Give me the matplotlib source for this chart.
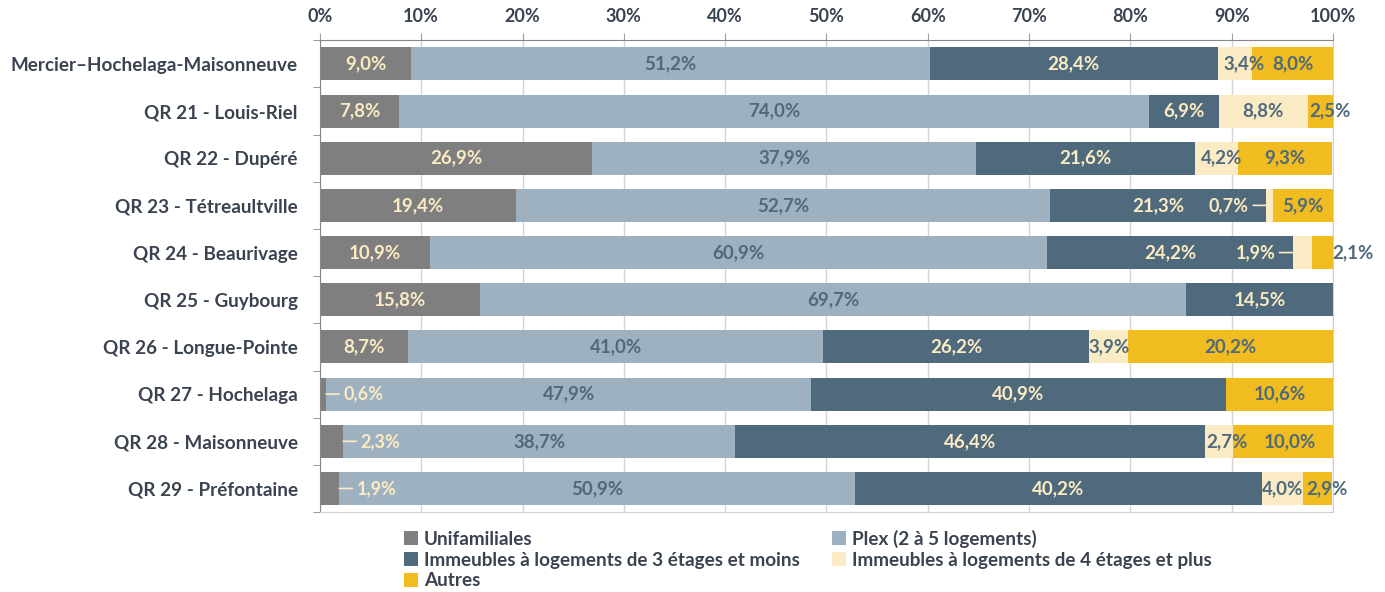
import numpy as np
import matplotlib
matplotlib.use("Agg")
import matplotlib.pyplot as plt

plt.rcParams["font.family"] = ["Lato", "DejaVu Sans"]

districts = ["Mercier\u2013Hochelaga-Maisonneuve", "QR 21 - Louis-Riel", "QR 22 - Dupéré",
             "QR 23 - Tétreaultville", "QR 24 - Beaurivage", "QR 25 - Guybourg",
             "QR 26 - Longue-Pointe", "QR 27 - Hochelaga", "QR 28 - Maisonneuve",
             "QR 29 - Préfontaine"]
series = ["Unifamiliales", "Plex (2 à 5 logements)",
          "Immeubles à logements de 3 étages et moins",
          "Immeubles à logements de 4 étages et plus", "Autres"]
unifamiliales = [9.0, 7.8, 26.9, 19.4, 10.9, 15.8, 8.7, 0.6, 2.3, 1.9]
plex = [51.2, 74.0, 37.9, 52.7, 60.9, 69.7, 41.0, 47.9, 38.7, 50.9]
imm_3 = [28.4, 6.9, 21.6, 21.3, 24.2, 14.5, 26.2, 40.9, 46.4, 40.2]
imm_4 = [3.4, 8.8, 4.2, 0.7, 1.9, 0.0, 3.9, 0.0, 2.7, 4.0]
autres = [8.0, 2.5, 9.3, 5.9, 2.1, 0.0, 20.2, 10.6, 10.0, 2.9]

colors = ["#7F7F7F", "#9DB1C0", "#4E6A7C", "#FBEBC5", "#F0BC1F"]
CREAM = "#FBEBC3"
SLATE = "#4E6A7C"
label_colors = [CREAM, SLATE, CREAM, SLATE, SLATE]
TXT = "#3A4350"

# labels with a leader line: (row, series) -> side
leaders = {(7, 0): "right", (8, 0): "right", (9, 0): "right",
           (3, 3): "left", (4, 3): "left"}
# small nudges for crowded labels (in % units)
nudge = {(0, 3): 0.9, (1, 4): 0.9, (2, 3): 0.5, (4, 4): 3.0,
         (8, 3): 0.8, (8, 4): 0.6, (9, 4): 0.9}

fig = plt.figure(figsize=(13.85, 5.92), dpi=100)
ax = fig.add_axes([0.231, 0.135, 0.7315, 0.797])

vals = np.array([unifamiliales, plex, imm_3, imm_4, autres])
y = np.arange(len(districts))
left = np.zeros(len(districts))
for j in range(len(series)):
    ax.barh(y, vals[j], left=left, height=0.7, color=colors[j], label=series[j], zorder=2)
    for i in range(len(districts)):
        v = vals[j, i]
        if v <= 0:
            continue
        txt = f"{v:.1f}%".replace(".", ",")
        if (i, j) in leaders:
            side = leaders[(i, j)]
            edge = left[i] + v if side == "right" else left[i]
            tx = edge + 1.7 if side == "right" else edge - 1.7
            ax.annotate(txt, xy=(edge, i), xytext=(tx, i),
                        ha="left" if side == "right" else "right", va="center",
                        fontsize=13, fontweight="bold", color=CREAM, zorder=4,
                        arrowprops=dict(arrowstyle="-", color=CREAM, lw=1.2,
                                        shrinkA=1, shrinkB=0))
        else:
            x = left[i] + v / 2 + nudge.get((i, j), 0)
            ax.text(x, i, txt, ha="center", va="center", fontsize=13.5,
                    fontweight="bold", color=label_colors[j], zorder=4)
    left += vals[j]

ax.set_xlim(0, 100)
ax.set_ylim(len(districts) - 0.5, -0.5)
ax.xaxis.tick_top()
ax.set_xticks(np.arange(0, 101, 10))
ax.set_xticklabels([f"{t}%" for t in range(0, 101, 10)], fontsize=13,
                   fontweight="bold", color=TXT)
ax.tick_params(axis="x", length=5, color="#A0A0A0", pad=6)
ax.grid(axis="x", color="#D4D4D4", lw=1, zorder=0)

ax.set_yticks(y)
ax.set_yticklabels(districts, fontsize=13.6, fontweight="bold", color=TXT)
ax.tick_params(axis="y", length=0, pad=16)
ax.set_yticks(np.arange(-0.5, len(districts) + 0.5, 1), minor=True)
ax.tick_params(axis="y", which="minor", length=5, color="#888888")

for s in ["left", "top"]:
    ax.spines[s].set_color("#888888")
for s in ["right", "bottom"]:
    ax.spines[s].set_color("#D0D0D0")

order = [0, 2, 4, 1, 3]
h, l = ax.get_legend_handles_labels()
fig.legend([h[k] for k in order], [l[k] for k in order], ncol=2,
           loc="upper left", bbox_to_anchor=(0.285, 0.121), frameon=False,
           handlelength=0.75, handleheight=0.75, handletextpad=0.3,
           columnspacing=1.7, labelspacing=0.2, borderpad=0,
           prop=dict(weight="bold", size=13.6))
for t in fig.legends[0].get_texts():
    t.set_color(TXT)

fig.savefig("out.png", dpi=100)
